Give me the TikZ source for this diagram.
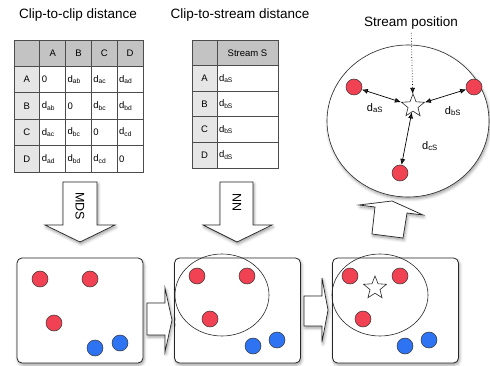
\documentclass[tikz,border=0pt]{standalone}
\usepackage{fontspec}
\setmainfont{Liberation Sans}
\usetikzlibrary{shapes.geometric,arrows.meta,shadows.blur}
\definecolor{dotred}{RGB}{240,66,82}
\definecolor{dotblue}{RGB}{46,116,242}
\definecolor{hdr}{RGB}{195,195,195}
\definecolor{lhdr}{RGB}{230,230,230}
\newcommand{\dsub}[1]{d\textsubscript{#1}}
\tikzset{
  shad/.style={blur shadow={shadow xshift=1pt, shadow yshift=-2pt, shadow blur radius=3pt}},
  reddot/.style={circle, draw=black!80, line width=0.5pt, fill=dotred, minimum size=16pt, inner sep=0pt},
  bluedot/.style={reddot, fill=dotblue},
  panel/.style={draw=black!85, line width=0.8pt, rounded corners=5pt, fill=white, minimum width=126pt, minimum height=105pt, shad},
  cluster/.style={ellipse, draw=black!85, line width=0.6pt, inner sep=0pt},
  blockarrow/.style={draw=black!85, line width=0.7pt, fill=white, shad, line join=miter},
  title/.style={font=\fontsize{13.5}{15}\selectfont},
  cellbase/.style={draw=black!70, line width=0.8pt, inner sep=0pt, anchor=center, font=\fontsize{9.5}{10}\selectfont},
  hcell/.style={cellbase, fill=hdr, minimum width=#1, minimum height=26.4pt},
  lcell/.style={cellbase, fill=lhdr, minimum width=25.8pt, minimum height=#1},
  dcell/.style={cellbase, fill=white, text width=#1, inner xsep=2pt, align=left, minimum height=26.4pt},
  starnode/.style={star, star points=5, star point ratio=2.3, draw=black!85, line width=0.6pt, fill=white, minimum size=24pt, inner sep=0pt},
  dist/.style={{Latex[length=6pt,width=5pt]}-{Latex[length=6pt,width=5pt]}, line width=0.7pt},
  lab/.style={font=\fontsize{11}{13}\selectfont}
}
\begin{document}
\begin{tikzpicture}[x=1pt,y=-1pt]
\useasboundingbox (0,0) rectangle (490,366);

% titles
\node[title] (t1title) at (78,15) {Clip-to-clip distance};
\node[title] (t2title) at (240,15) {Clip-to-stream distance};
\node[title] (sptitle) at (411,23) {Stream position};

% table 1  (x 14..143, y 40..172)
\node[hcell=25.8pt] (t1-0-0) at (26.9,53.2) {};
\foreach \c/\h in {1/A,2/B,3/C,4/D}
  \node[hcell=25.8pt] (t1-0-\c) at (26.9+25.8*\c,53.2) {\h};
\foreach \r/\l/\a/\b/\cc/\d in {
  1/A/0/\dsub{ab}/\dsub{ac}/\dsub{ad},
  2/B/\dsub{ab}/0/\dsub{bc}/\dsub{bd},
  3/C/\dsub{ac}/\dsub{bc}/0/\dsub{cd},
  4/D/\dsub{ad}/\dsub{bd}/\dsub{cd}/0}{
  \node[lcell=26.4pt] (t1-\r-0) at (26.9,53.2+26.4*\r) {\l};
  \node[dcell=21.8pt] (t1-\r-1) at (26.9+25.8,53.2+26.4*\r) {\a};
  \node[dcell=21.8pt] (t1-\r-2) at (26.9+51.6,53.2+26.4*\r) {\b};
  \node[dcell=21.8pt] (t1-\r-3) at (26.9+77.4,53.2+26.4*\r) {\cc};
  \node[dcell=21.8pt] (t1-\r-4) at (26.9+103.2,53.2+26.4*\r) {\d};
}

% table 2  (x 192..278, y 40..168)
\node[hcell=25pt, minimum height=25.6pt] (t2-0-0) at (204.5,52.8) {};
\node[hcell=61pt, minimum height=25.6pt] (t2-0-1) at (247.5,52.8) {Stream S};
\foreach \r/\l/\v in {1/A/\dsub{aS},2/B/\dsub{bS},3/C/\dsub{bS},4/D/\dsub{dS}}{
  \node[lcell=25.6pt, minimum width=25pt] (t2-\r-0) at (204.5,52.8+25.6*\r) {\l};
  \node[dcell=57pt, minimum height=25.6pt] (t2-\r-1) at (247.5,52.8+25.6*\r) {\v};
}

% down arrows
\draw[blockarrow] (63,182) -- (97,182) -- (97,225) -- (115,225) -- (80,242) -- (45,225) -- (63,225) -- cycle;
\node[font=\fontsize{12.5}{14}\selectfont, rotate=-90] (mds) at (80,206) {MDS};
\draw[blockarrow] (220,182) -- (253,182) -- (253,225) -- (272,225) -- (237,242) -- (203,225) -- (220,225) -- cycle;
\node[font=\fontsize{12.5}{14}\selectfont, rotate=-90] (nn) at (237,203) {NN};

% big ellipse
\node[cluster, minimum width=162pt, minimum height=152pt, fill=white, shad] (big) at (408,121) {};
\node[reddot] (ba) at (354,87) {};
\node[reddot] (bb) at (474,87) {};
\node[reddot] (bc) at (400,173) {};
\node[starnode] (bs) at (413,106) {};
\draw[dist] (ba) -- (bs);
\draw[dist] (bb) -- (bs);
\draw[dist] (bc) -- (bs);
\node[lab] (lda) at (375,108) {\dsub{aS}};
\node[lab] (ldb) at (453,111) {\dsub{bS}};
\node[lab] (ldc) at (430,146) {\dsub{cS}};
\draw[dotted, line width=0.7pt, -{Latex[length=6pt,width=5pt]}] (sptitle) -- (bs);

% up arrow
\draw[blockarrow] (372,234) -- (375,207) -- (359,205) -- (392,201) -- (423,215) -- (407,213) -- (403,238) -- cycle;

% panels
\node[panel] (p1) at (80,310.5) {};
\node[panel] (p2) at (237.5,310.5) {};
\node[panel] (p3) at (395.5,310.5) {};

% panel 1 dots
\node[reddot] (a1) at (40,279) {};
\node[reddot] (b1) at (90,279) {};
\node[reddot] (c1) at (54,323) {};
\node[bluedot] (d1) at (95,348) {};
\node[bluedot] (e1) at (120,343) {};

% panel 2
\node[cluster, minimum width=94pt, minimum height=82pt] (e2) at (222,295) {};
\node[reddot] (a2) at (197,276) {};
\node[reddot] (b2) at (247,276) {};
\node[reddot] (c2) at (210,319) {};
\node[bluedot] (d2) at (253,346) {};
\node[bluedot] (f2) at (277,340) {};

% panel 3
\node[cluster, minimum width=96pt, minimum height=82pt] (e3) at (380,295) {};
\node[reddot] (a3) at (350,276) {};
\node[reddot] (b3) at (400,276) {};
\node[reddot] (c3) at (363,319) {};
\node[starnode] (s3) at (375,288) {};
\node[bluedot] (d3) at (405,346) {};
\node[bluedot] (f3) at (429,340) {};

% right arrows
\draw[blockarrow] (147,303) -- (165,303) -- (165,288) -- (172,320) -- (165,352) -- (165,335) -- (147,335) -- cycle;
\draw[blockarrow] (304,296) -- (322,296) -- (322,278) -- (328,310) -- (322,342) -- (322,326) -- (304,326) -- cycle;
\end{tikzpicture}
\end{document}
